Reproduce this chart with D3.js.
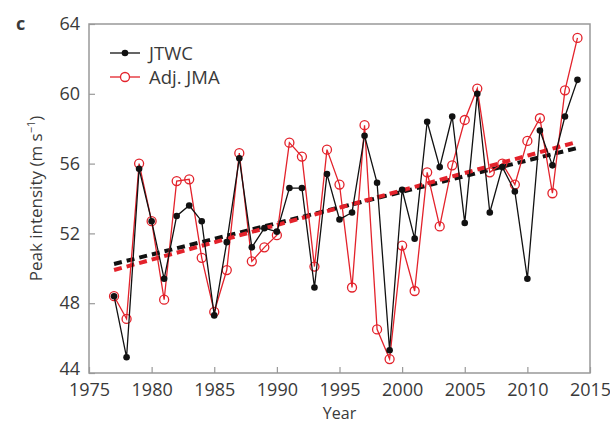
<!DOCTYPE html>
<html>
<head>
<meta charset="utf-8">
<script src="https://cdn.jsdelivr.net/npm/d3@7"></script>
<style>
  body { margin: 0; background: #fff; }
  text { font-family: "Open Sans", "Noto Sans", sans-serif; fill: #3a3a3a; }
</style>
</head>
<body>
<svg id="chart" width="610" height="428"></svg>
<script>
// Data
const years = d3.range(1977, 2015);
const jtwc = [48.4, 44.9, 55.7, 52.7, 49.4, 53.0, 53.6, 52.7, 47.3, 51.5,
  56.3, 51.2, 52.3, 52.1, 54.6, 54.6, 48.9, 55.4, 52.8, 53.2,
  57.6, 54.9, 45.3, 54.5, 51.7, 58.4, 55.8, 58.7, 52.6, 60.0,
  53.2, 55.8, 54.4, 49.4, 57.9, 55.9, 58.7, 60.8];
const adjJma = [48.4, 47.1, 56.0, 52.7, 48.2, 55.0, 55.1, 50.6, 47.5, 49.9,
  56.6, 50.4, 51.2, 51.9, 57.2, 56.4, 50.1, 56.8, 54.8, 48.9,
  58.2, 46.5, 44.8, 51.3, 48.7, 55.5, 52.4, 55.9, 58.5, 60.3,
  55.5, 56.0, 54.8, 57.3, 58.6, 54.3, 60.2, 63.2];
// Trend line endpoints [1977, 2014]
const trendYears = [1977, 2014];
const jtwcTrend = [50.25, 56.9];
const jmaTrend = [49.9, 57.25];
const xTicks = [1975, 1980, 1985, 1990, 1995, 2000, 2005, 2010, 2015];
const yTicks = [44, 48, 52, 56, 60, 64];

const margin = { left: 89, right: 20, top: 24, bottom: 55 };
const width = 610, height = 428;
const svg = d3.select("#chart");

const x = d3.scaleLinear().domain([1975, 2015]).range([margin.left, width - margin.right]);
const y = d3.scaleLinear().domain([44, 64]).range([height - margin.bottom, margin.top]);

const RED = "#e3222b";
const BLACK = "#111";
const AXIS = "#999";

// Axes (ticks inside)
const xAxis = svg.append("g")
  .attr("transform", `translate(0,${y(44)})`)
  .call(d3.axisBottom(x).tickValues(xTicks).tickFormat(d3.format("d")).tickSizeInner(-6).tickSizeOuter(0).tickPadding(9));
const yAxis = svg.append("g")
  .attr("transform", `translate(${x(1975)},0)`)
  .call(d3.axisLeft(y).tickValues(yTicks).tickSizeInner(-6).tickSizeOuter(0).tickPadding(9));

[xAxis, yAxis].forEach((g) => {
  g.select(".domain").remove();
  g.selectAll(".tick line").attr("stroke", AXIS).attr("stroke-width", 1.2);
  g.selectAll(".tick text").attr("font-size", 18).attr("fill", "#3a3a3a")
    .attr("font-family", '"Open Sans", sans-serif');
});
xAxis.selectAll(".tick text").attr("dy", "0.8em");
// 44 sits close to the corner like in the figure
yAxis.selectAll(".tick text").filter((d) => d === 44).attr("dy", "0.1em");

// Frame
svg.append("rect")
  .attr("x", x(1975)).attr("y", y(64))
  .attr("width", x(2015) - x(1975)).attr("height", y(44) - y(64))
  .attr("fill", "none").attr("stroke", AXIS).attr("stroke-width", 1.5);

// Trend lines
const trend = (vals) => d3.line().x((d, i) => x(trendYears[i])).y((d) => y(d))(vals);
svg.append("path").attr("d", trend(jtwcTrend))
  .attr("stroke", BLACK).attr("stroke-width", 4).attr("stroke-dasharray", "8,5").attr("fill", "none");
svg.append("path").attr("d", trend(jmaTrend))
  .attr("stroke", RED).attr("stroke-width", 4).attr("stroke-dasharray", "8,5").attr("fill", "none");

const line = d3.line().x((d, i) => x(years[i])).y((d) => y(d));

// Adj. JMA series
svg.append("path").attr("d", line(adjJma))
  .attr("stroke", RED).attr("stroke-width", 1.3).attr("fill", "none");
svg.append("g").selectAll("circle").data(adjJma).join("circle")
  .attr("cx", (d, i) => x(years[i])).attr("cy", (d) => y(d)).attr("r", 4.5)
  .attr("fill", "none").attr("stroke", RED).attr("stroke-width", 1.3);

// JTWC series
svg.append("path").attr("d", line(jtwc))
  .attr("stroke", BLACK).attr("stroke-width", 1.3).attr("fill", "none");
svg.append("g").selectAll("circle").data(jtwc).join("circle")
  .attr("cx", (d, i) => x(years[i])).attr("cy", (d) => y(d)).attr("r", 3.3)
  .attr("fill", BLACK);

// Legend
const legend = svg.append("g").attr("transform", "translate(110,53)");
legend.append("line").attr("x1", 0).attr("x2", 30).attr("stroke", BLACK).attr("stroke-width", 1.3);
legend.append("circle").attr("cx", 15).attr("r", 3.3).attr("fill", BLACK);
legend.append("text").attr("x", 39).attr("dy", "0.36em").attr("font-size", 18.5).text("JTWC");
legend.append("line").attr("x1", 0).attr("x2", 30).attr("y1", 24).attr("y2", 24).attr("stroke", RED).attr("stroke-width", 1.3);
legend.append("circle").attr("cx", 15).attr("cy", 24).attr("r", 4.5).attr("fill", "#fff").attr("stroke", RED).attr("stroke-width", 1.3);
legend.append("text").attr("x", 39).attr("y", 24).attr("dy", "0.36em").attr("font-size", 18.5).text("Adj. JMA");

// Axis titles
svg.append("text").attr("x", (x(1975) + x(2015)) / 2).attr("y", 419)
  .attr("text-anchor", "middle").attr("font-size", 16).text("Year");
svg.append("text")
  .attr("transform", `translate(42,${(y(44) + y(64)) / 2}) rotate(-90)`)
  .attr("text-anchor", "middle").attr("font-size", 17)
  .html('Peak intensity (m s<tspan dy="-7" font-size="11">−1</tspan><tspan dy="7">)</tspan>');

// Panel letter
svg.append("text").attr("x", 16).attr("y", 30).attr("font-size", 18)
  .attr("font-weight", "bold").attr("fill", "#111").text("c");
</script>
</body>
</html>
